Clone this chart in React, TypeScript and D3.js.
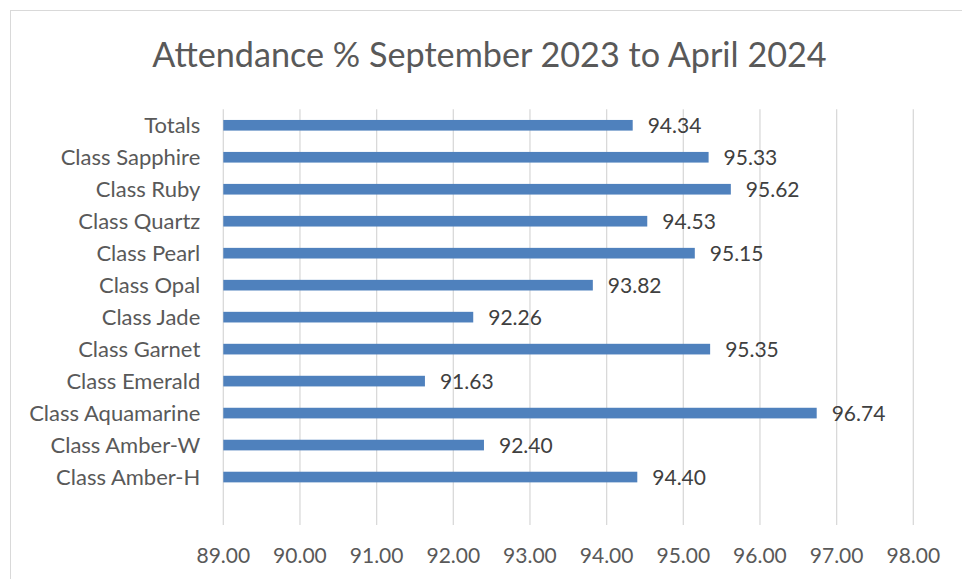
import * as d3 from 'd3';

const categories = [
  'Totals',
  'Class Sapphire',
  'Class Ruby',
  'Class Quartz',
  'Class Pearl',
  'Class Opal',
  'Class Jade',
  'Class Garnet',
  'Class Emerald',
  'Class Aquamarine',
  'Class Amber-W',
  'Class Amber-H',
  '',
];
const values: (number | null)[] = [94.34, 95.33, 95.62, 94.53, 95.15, 93.82, 92.26, 95.35, 91.63, 96.74, 92.40, 94.40, null];
const xTicks = [89, 90, 91, 92, 93, 94, 95, 96, 97, 98];

const W = 962;
const H = 579;
const FONT = 'Lato, "Open Sans", sans-serif';

export default function App() {
  const margin = { top: 109.3, left: 223.3, right: 962 - 913.3, bottom: 579 - 525 };
  const innerW = W - margin.left - margin.right;
  const innerH = H - margin.top - margin.bottom;

  const x = d3.scaleLinear().domain([89, 98]).range([0, innerW]);
  const y = d3.scaleBand().domain(categories).range([0, innerH]).paddingInner(0.667).paddingOuter(0.333);

  const rows = categories
    .map((c, i) => ({ c, v: values[i] }))
    .filter(d => d.c !== '');

  return (
    <svg width={W} height={H} style={{ position: 'fixed', left: 0, top: 0 }} fontFamily={FONT}>
      <rect x={0} y={0} width={W} height={H} fill="#fff" />
      <rect x={10.5} y={10.5} width={W + 20} height={H + 20} fill="none" stroke="#d9d9d9" strokeWidth={1} />
      <text x={489.5} y={67} textAnchor="middle" fontSize={34.2} fill="#595959">
        Attendance % September 2023 to April 2024
      </text>
      <g transform={`translate(${margin.left},${margin.top})`}>
        {xTicks.map(t => (
          <line key={t} x1={x(t)} x2={x(t)} y1={0} y2={innerH} stroke="#d9d9d9" strokeWidth={1.3} />
        ))}
        {rows.map(d => {
          const cy = (y(d.c) ?? 0) + y.bandwidth() / 2;
          return (
            <g key={d.c}>
              <text x={-23} y={cy} dy="0.36em" textAnchor="end" fontSize={22} fill="#595959">{d.c}</text>
              {d.v !== null && (
                <>
                  <rect x={0} y={y(d.c)} width={x(d.v)} height={y.bandwidth()} fill="#4f81bd" />
                  <text x={x(d.v) + 15} y={cy} dy="0.38em" fontSize={21} fill="#404040">{d.v.toFixed(2)}</text>
                </>
              )}
            </g>
          );
        })}
        {xTicks.map(t => (
          <text key={t} x={x(t)} y={innerH + 38.5} textAnchor="middle" fontSize={21} fill="#595959">
            {t.toFixed(2)}
          </text>
        ))}
      </g>
    </svg>
  );
}
